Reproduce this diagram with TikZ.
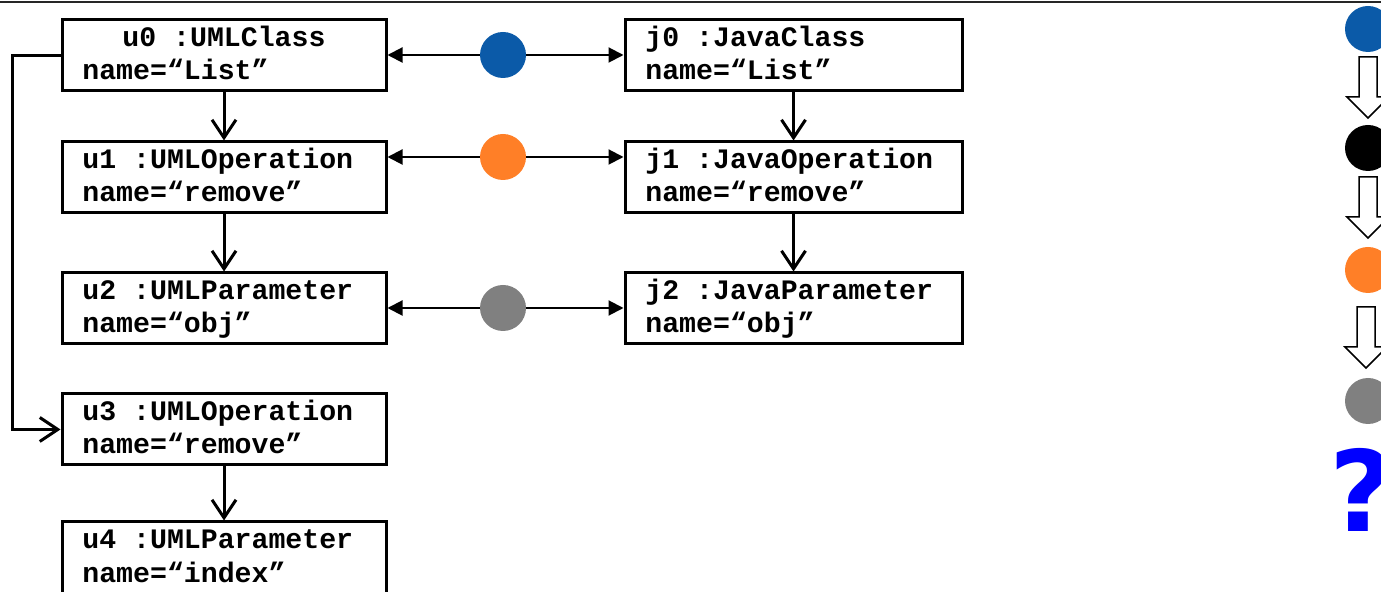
\documentclass[tikz,border=0pt]{standalone}
\usepackage{fontspec}
\setmonofont{Liberation Mono}
\newfontfamily\qfont{DejaVu Sans}
\usetikzlibrary{arrows.meta}

\definecolor{linkblue}{RGB}{11,90,168}
\definecolor{linkorange}{RGB}{255,127,39}
\definecolor{linkgray}{RGB}{128,128,128}
\definecolor{qblue}{RGB}{0,0,255}

\tikzset{
  objbox/.style={draw, line width=1.5pt, minimum width=162pt, minimum height=35.5pt, inner sep=0pt},
  objtext/.style={font=\ttfamily\bfseries\fontsize{14.1}{16}\selectfont, inner sep=0pt},
  contain/.style={line width=1.5pt, -{Straight Barb[length=9pt,width=12pt,line width=1.5pt]}},
  trace/.style={line width=1pt, -{Triangle[length=7.5pt,width=7.5pt]}},
  dot/.style={circle, minimum size=23pt, inner sep=0pt},
  downarrow/.pic={
    \draw[line width=0.75pt, fill=white]
      (-9,0) -- (9,0) -- (9,40) -- (21,40) -- (0,61) -- (-21,40) -- (-9,40) -- cycle;
  }
}

\begin{document}
\begin{tikzpicture}[x=0.5pt,y=-0.5pt]
\useasboundingbox (0,0) rectangle (1381,592);

% rule along the top edge
\draw[line width=1pt, black!85] (0,2.5) -- (1381,2.5);

% UML side
\node[objbox] (u0) at (224,55.5) {};
\node[objtext, anchor=base] (u0a) at (224,47) {u0 :UMLClass};
\node[objtext, anchor=base west] (u0b) at (82,80) {name=“List”};

\node[objbox] (u1) at (224,177.5) {};
\node[objtext, anchor=base west] (u1a) at (82,169) {u1 :UMLOperation};
\node[objtext, anchor=base west] (u1b) at (82,202) {name=“remove”};

\node[objbox] (u2) at (224,308.5) {};
\node[objtext, anchor=base west] (u2a) at (82,300) {u2 :UMLParameter};
\node[objtext, anchor=base west] (u2b) at (82,333) {name=“obj”};

\node[objbox] (u3) at (224,429.5) {};
\node[objtext, anchor=base west] (u3a) at (82,421) {u3 :UMLOperation};
\node[objtext, anchor=base west] (u3b) at (82,454) {name=“remove”};

\node[objbox, minimum height=38pt] (u4) at (224,560) {};
\node[objtext, anchor=base west] (u4a) at (82,549) {u4 :UMLParameter};
\node[objtext, anchor=base west] (u4b) at (82,582) {name=“index”};

% Java side
\node[objbox, minimum width=168.5pt] (j0) at (793.5,55.5) {};
\node[objtext, anchor=base west] (j0a) at (645,47) {j0 :JavaClass};
\node[objtext, anchor=base west] (j0b) at (645,80) {name=“List”};

\node[objbox, minimum width=168.5pt] (j1) at (793.5,177.5) {};
\node[objtext, anchor=base west] (j1a) at (645,169) {j1 :JavaOperation};
\node[objtext, anchor=base west] (j1b) at (645,202) {name=“remove”};

\node[objbox, minimum width=168.5pt] (j2) at (793.5,308.5) {};
\node[objtext, anchor=base west] (j2a) at (645,300) {j2 :JavaParameter};
\node[objtext, anchor=base west] (j2b) at (645,333) {name=“obj”};

% containment
\draw[contain] (u0) -- (u1);
\draw[contain] (u1) -- (u2);
\draw[contain] (u3) -- (u4);
\draw[contain] (u0.west) -- ++(-48,0) |- (u3.west);
\draw[contain] (j0) -- (j1);
\draw[contain] (j1) -- (j2);

% trace links
\node[dot, fill=linkblue] (cb) at (503,55) {};
\node[dot, fill=linkorange] (co) at (503,157) {};
\node[dot, fill=linkgray] (cg) at (503,308) {};
\draw[trace] (cb) -- (cb -| u0.east);
\draw[trace] (cb) -- (cb -| j0.west);
\draw[trace] (co) -- (co -| u1.east);
\draw[trace] (co) -- (co -| j1.west);
\draw[trace] (cg) -- (cg -| u2.east);
\draw[trace] (cg) -- (cg -| j2.west);

% sequence column
\node[dot, fill=linkblue] (sb) at (1368,29) {};
\pic (a1) at (1368,57) {downarrow};
\node[dot, fill=black] (sk) at (1368,148) {};
\pic (a2) at (1368,177) {downarrow};
\node[dot, fill=linkorange] (so) at (1368,270) {};
\pic (a3) at (1366,307) {downarrow};
\node[dot, fill=linkgray] (sg) at (1368,401) {};
\node[text=qblue, font=\qfont\bfseries\fontsize{56}{56}\selectfont, anchor=base, inner sep=0pt] (q) at (1362,532) {?};
\end{tikzpicture}
\end{document}
